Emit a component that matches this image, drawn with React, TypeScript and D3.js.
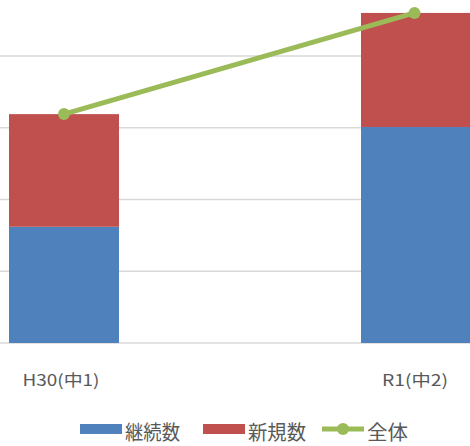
import React from "react";
import * as d3 from "d3";

const categories = ["H30(中1)", "R1(中2)"];
const continuing = [1.62, 3.01];
const newCount = [1.57, 1.59];
const total = [3.19, 4.6];
const yTicks = [0, 1, 2, 3, 4, 5];
const seriesNames = ["継続数", "新規数", "全体"];

const W = 470;
const H = 446;
const BLUE = "#4F81BD";
const RED = "#C0504D";
const GREEN = "#9BBB59";
const FONT = "'Noto Sans CJK JP', 'Noto Sans', sans-serif";

export default function App() {
  const x = d3
    .scaleBand<string>()
    .domain(categories)
    .range([-112, 592])
    .paddingInner(0.6875)
    .paddingOuter(0.34375);
  const y = d3.scaleLinear().domain([0, 5]).range([343, -15.75]);
  const bw = x.bandwidth();
  const cx = (c: string) => (x(c) as number) + bw / 2;
  const line = d3
    .line<number>()
    .x((_, i) => cx(categories[i]) - (i === 1 ? 1.5 : 0))
    .y((d) => y(d));

  return (
    <svg
      width={W}
      height={H}
      style={{ position: "absolute", left: 0, top: 0, background: "#fff" }}
    >
      {yTicks.map((t) => (
        <line
          key={t}
          x1={0}
          x2={W}
          y1={y(t)}
          y2={y(t)}
          stroke="#d9d9d9"
          strokeWidth={1.5}
        />
      ))}
      {categories.map((c, i) => (
        <g key={c}>
          <rect
            x={x(c)}
            y={y(continuing[i])}
            width={bw}
            height={y(0) - y(continuing[i])}
            fill={BLUE}
          />
          <rect
            x={x(c)}
            y={y(continuing[i] + newCount[i])}
            width={bw}
            height={y(continuing[i]) - y(continuing[i] + newCount[i])}
            fill={RED}
          />
        </g>
      ))}
      <path
        d={line(total) || ""}
        fill="none"
        stroke={GREEN}
        strokeWidth={5}
        strokeLinecap="round"
      />
      {total.map((v, i) => (
        <circle
          key={i}
          cx={cx(categories[i]) - (i === 1 ? 1.5 : 0)}
          cy={y(v)}
          r={6}
          fill={GREEN}
        />
      ))}
      {categories.map((c, i) => (
        <text
          key={c}
          x={cx(c) - (i === 0 ? 3 : 1)}
          y={386}
          textAnchor="middle"
          fontFamily={FONT}
          fontSize={16}
          fill="#595959"
          textLength={i === 0 ? 77 : 66}
          lengthAdjust="spacingAndGlyphs"
        >
          {c}
        </text>
      ))}
      <g fontFamily={FONT} fontSize={20} fill="#595959">
        <rect x={80} y={424} width={42} height={10} fill={BLUE} />
        <text x={125} y={440} textLength={55} lengthAdjust="spacingAndGlyphs">
          {seriesNames[0]}
        </text>
        <rect x={203} y={424} width={42} height={10} fill={RED} />
        <text x={248} y={440} textLength={58} lengthAdjust="spacingAndGlyphs">
          {seriesNames[1]}
        </text>
        <line x1={322} x2={364} y1={429} y2={429} stroke={GREEN} strokeWidth={5} />
        <circle cx={343} cy={429} r={6} fill={GREEN} />
        <text x={367} y={440} textLength={41} lengthAdjust="spacingAndGlyphs">
          {seriesNames[2]}
        </text>
      </g>
    </svg>
  );
}
